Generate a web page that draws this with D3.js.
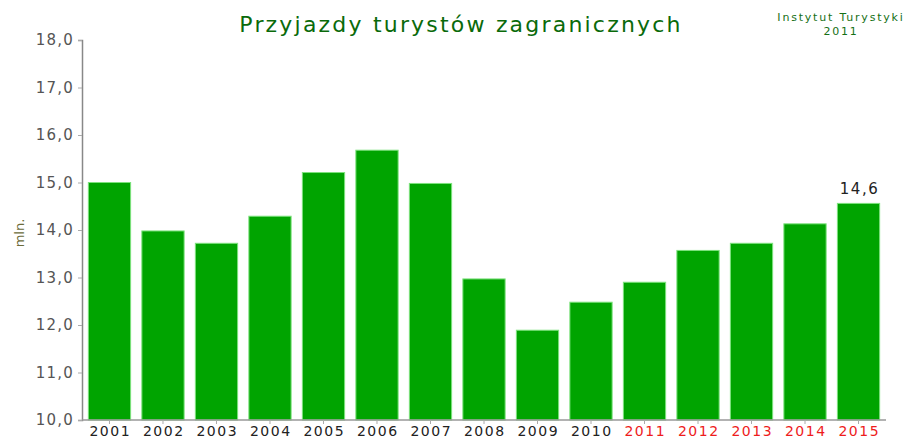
<!DOCTYPE html>
<html>
<head>
<meta charset="utf-8">
<script src="https://cdn.jsdelivr.net/npm/d3@7"></script>
<style>
  body { margin: 0; background: #fff; }
  svg text { font-family: "DejaVu Sans", Verdana, sans-serif; }
</style>
</head>
<body>
<div id="chart"></div>
<script>
const years = ["2001", "2002", "2003", "2004", "2005", "2006", "2007", "2008",
               "2009", "2010", "2011", "2012", "2013", "2014", "2015"];
const arrivals = [15.0, 13.98, 13.72, 14.29, 15.21, 15.68, 14.98, 12.97,
                  11.89, 12.48, 12.9, 13.57, 13.72, 14.13, 14.56];
const forecastFrom = "2011";
const yTicks = [10, 11, 12, 13, 14, 15, 16, 17, 18];

const width = 905, height = 440;
const margin = {top: 40, right: 20, bottom: 20, left: 82};

const svg = d3.select("#chart").append("svg")
    .attr("width", width)
    .attr("height", height);

const x = d3.scaleBand()
    .domain(years)
    .range([margin.left + 1, width - margin.right])
    .paddingInner(0.21)
    .paddingOuter(0.1);

const y = d3.scaleLinear()
    .domain([10, 18])
    .range([height - margin.bottom, margin.top]);

const commaFmt = v => d3.format(".1f")(v).replace(".", ",");

// bars
svg.selectAll(".bar")
    .data(years)
    .enter().append("rect")
    .attr("class", "bar")
    .attr("x", d => x(d))
    .attr("width", x.bandwidth())
    .attr("y", (d, i) => y(arrivals[i]))
    .attr("height", (d, i) => y(10) - y(arrivals[i]))
    .attr("fill", "#00a400")
    .attr("stroke", "#7de27d")
    .attr("stroke-width", 1);

// y axis
const yAxis = svg.append("g")
    .attr("transform", `translate(${margin.left},0)`)
    .call(d3.axisLeft(y).tickValues(yTicks).tickSize(4).tickPadding(4)
        .tickFormat(commaFmt));
yAxis.select(".domain").attr("stroke", "#888").attr("stroke-width", 1.5);
yAxis.selectAll(".tick line").attr("stroke", "#aaa");
yAxis.selectAll("text")
    .attr("fill", "#555")
    .style("font-size", "15px")
    .style("letter-spacing", "1.2px");

// x axis
const xAxis = svg.append("g")
    .attr("transform", `translate(0,${y(10)})`)
    .call(d3.axisBottom(x).tickSize(4).tickPadding(2).tickSizeOuter(0));
xAxis.select(".domain")
    .attr("d", `M${margin.left},0H${width - margin.right + 1}`)
    .attr("stroke", "#999").attr("stroke-width", 1.5);
xAxis.selectAll(".tick line").attr("stroke", "#aaa");
xAxis.selectAll("text")
    .attr("fill", d => d >= forecastFrom ? "#ee1c1c" : "#222")
    .style("font-size", "14px")
    .style("letter-spacing", "1.5px")
    .attr("dx", "0.75px");

// value label on last bar
const last = years.length - 1;
svg.append("text")
    .attr("x", x(years[last]) + x.bandwidth() / 2 + 1)
    .attr("y", y(arrivals[last]) - 9)
    .attr("text-anchor", "middle")
    .attr("fill", "#222")
    .style("font-size", "15px")
    .style("letter-spacing", "1.5px")
    .text("14,6");

// title
svg.append("text")
    .attr("x", 461)
    .attr("y", 32)
    .attr("text-anchor", "middle")
    .attr("fill", "#0a6a0a")
    .style("font-size", "22px")
    .style("letter-spacing", "2.2px")
    .text("Przyjazdy turystów zagranicznych");

// source note
svg.append("text")
    .attr("x", 841)
    .attr("y", 21)
    .attr("text-anchor", "middle")
    .attr("fill", "#157015")
    .style("font-size", "11px")
    .style("letter-spacing", "1.8px")
    .text("Instytut Turystyki");
svg.append("text")
    .attr("x", 841)
    .attr("y", 35)
    .attr("text-anchor", "middle")
    .attr("fill", "#157015")
    .style("font-size", "11px")
    .style("letter-spacing", "1.8px")
    .text("2011");

// y label
svg.append("text")
    .attr("transform", `translate(24,${(y(13) + y(15)) / 2 + 3}) rotate(-90)`)
    .attr("text-anchor", "middle")
    .attr("fill", "#6b6b3a")
    .style("font-size", "13px")
    .text("mln.");
</script>
</body>
</html>
